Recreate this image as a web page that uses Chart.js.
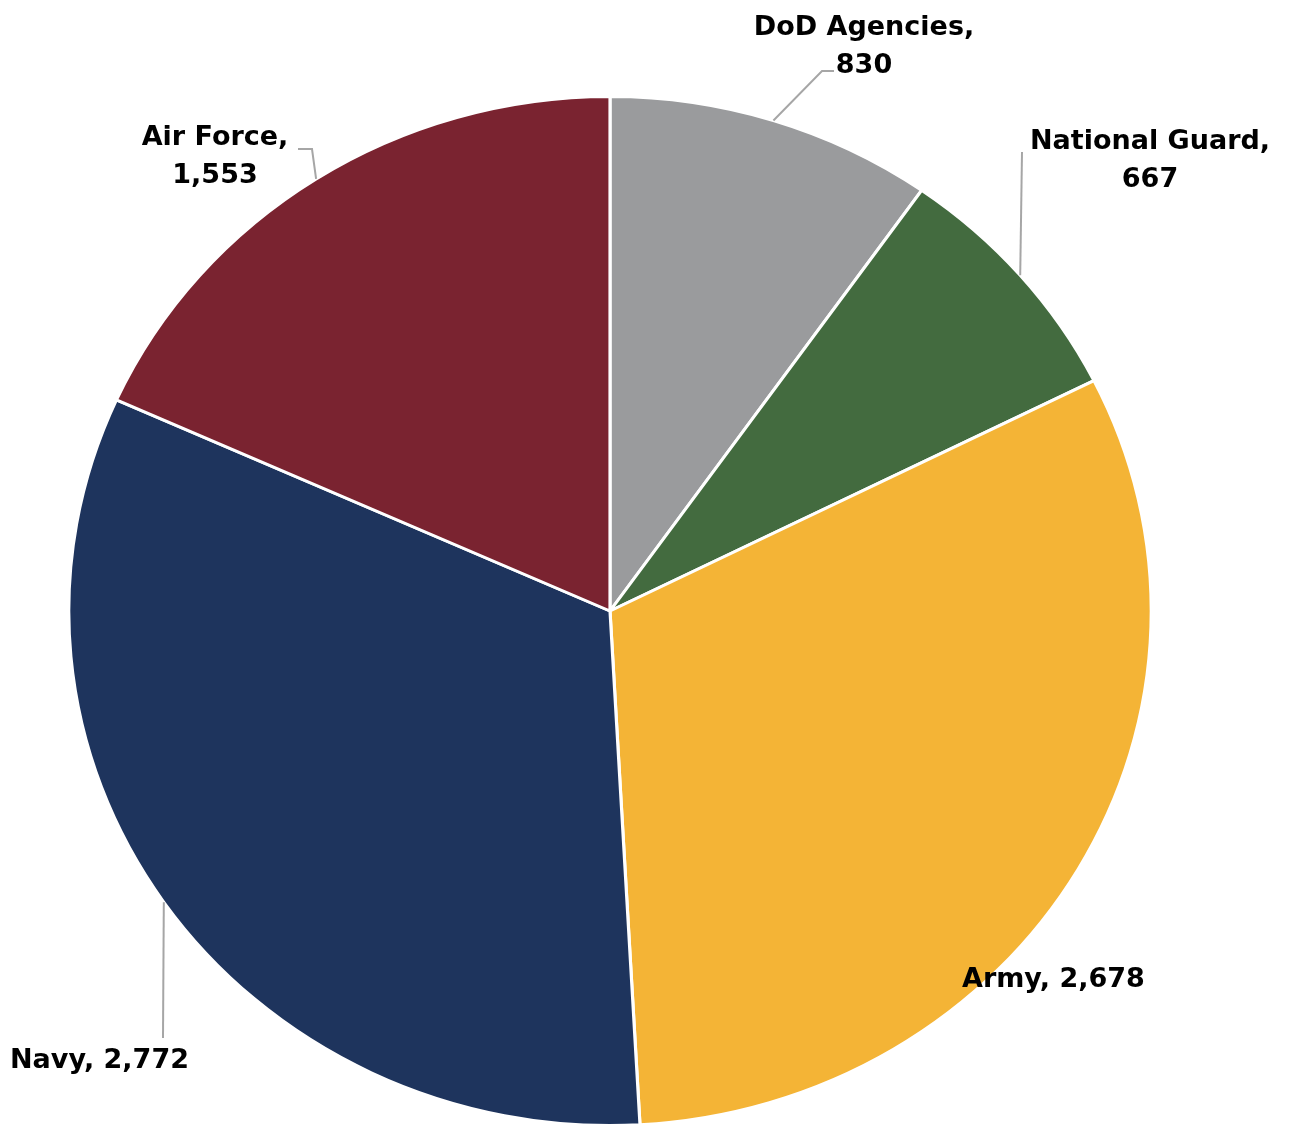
<!DOCTYPE html>
<html>
<head>
<meta charset="utf-8">
<script src="https://cdn.jsdelivr.net/npm/chart.js@4"></script>
<style>
html,body{margin:0;padding:0;background:#fff;}
#wrap{position:relative;width:1289px;height:1127px;}
</style>
</head>
<body>
<div id="wrap"><canvas id="c" width="1289" height="1127"></canvas></div>
<script>
const categories = ["DoD Agencies", "National Guard", "Army", "Navy", "Air Force"];
const values = [830, 667, 2678, 2772, 1553];
const colors = ["#9A9B9D", "#436B3F", "#F4B436", "#1E345D", "#7A2330"];

// label layout: centre x or left x, baselines, leader path (after arc edge point)
const labelLayout = [
  {split:true,  x:864,  align:"center", y:[35,73],  path:[[822,71],[834,71]]},
  {split:true,  x:1150, align:"center", y:[149,187], path:[[1022,152]]},
  {split:false, x:962,  align:"left",   y:[987],    path:null},
  {split:false, x:10,   align:"left",   y:[1068],   path:[[163,1038]]},
  {split:true,  x:215,  align:"center", y:[145,183], path:[[312,149],[298,149]]}
];
const stretchX = 1.052;

function fmt(n){return n.toLocaleString('en-US');}

const stretchPlugin = {
  id:'stretch',
  beforeDatasetsDraw(chart){
    const a = chart.getDatasetMeta(0).data[0];
    const ctx = chart.ctx;
    ctx.save();
    ctx.translate(a.x,0); ctx.scale(stretchX,1); ctx.translate(-a.x,0);
  },
  afterDatasetsDraw(chart){ chart.ctx.restore(); }
};

const labelPlugin = {
  id:'labels',
  afterDraw(chart){
    const ctx = chart.ctx;
    const meta = chart.getDatasetMeta(0);
    ctx.save();
    meta.data.forEach((arc,i)=>{
      const L = labelLayout[i];
      const mid = (arc.startAngle + arc.endAngle)/2;
      const ex = arc.x + Math.cos(mid)*arc.outerRadius*stretchX;
      const ey = arc.y + Math.sin(mid)*arc.outerRadius;
      if (L.path){
        ctx.beginPath();
        ctx.strokeStyle = "#A6A6A6";
        ctx.lineWidth = 2;
        ctx.moveTo(ex,ey);
        L.path.forEach(p=>ctx.lineTo(p[0],p[1]));
        ctx.stroke();
      }
      const lines = L.split ? [categories[i]+",", fmt(values[i])] : [categories[i]+", "+fmt(values[i])];
      ctx.fillStyle = "#000";
      ctx.font = "bold 27px 'DejaVu Sans'";
      ctx.textAlign = L.align;
      ctx.textBaseline = "alphabetic";
      lines.forEach((t,j)=>ctx.fillText(t, L.x, L.y[j]));
    });
    ctx.restore();
  }
};

new Chart(document.getElementById('c'), {
  type:'pie',
  data:{labels:categories, datasets:[{data:values, backgroundColor:colors, borderColor:"#fff", borderWidth:3}]},
  options:{
    responsive:false,
    animation:false,
    layout:{padding:{top:95,bottom:0,left:94,right:163}},
    plugins:{legend:{display:false}, tooltip:{enabled:false}}
  },
  plugins:[stretchPlugin,labelPlugin]
});
</script>
</body>
</html>
